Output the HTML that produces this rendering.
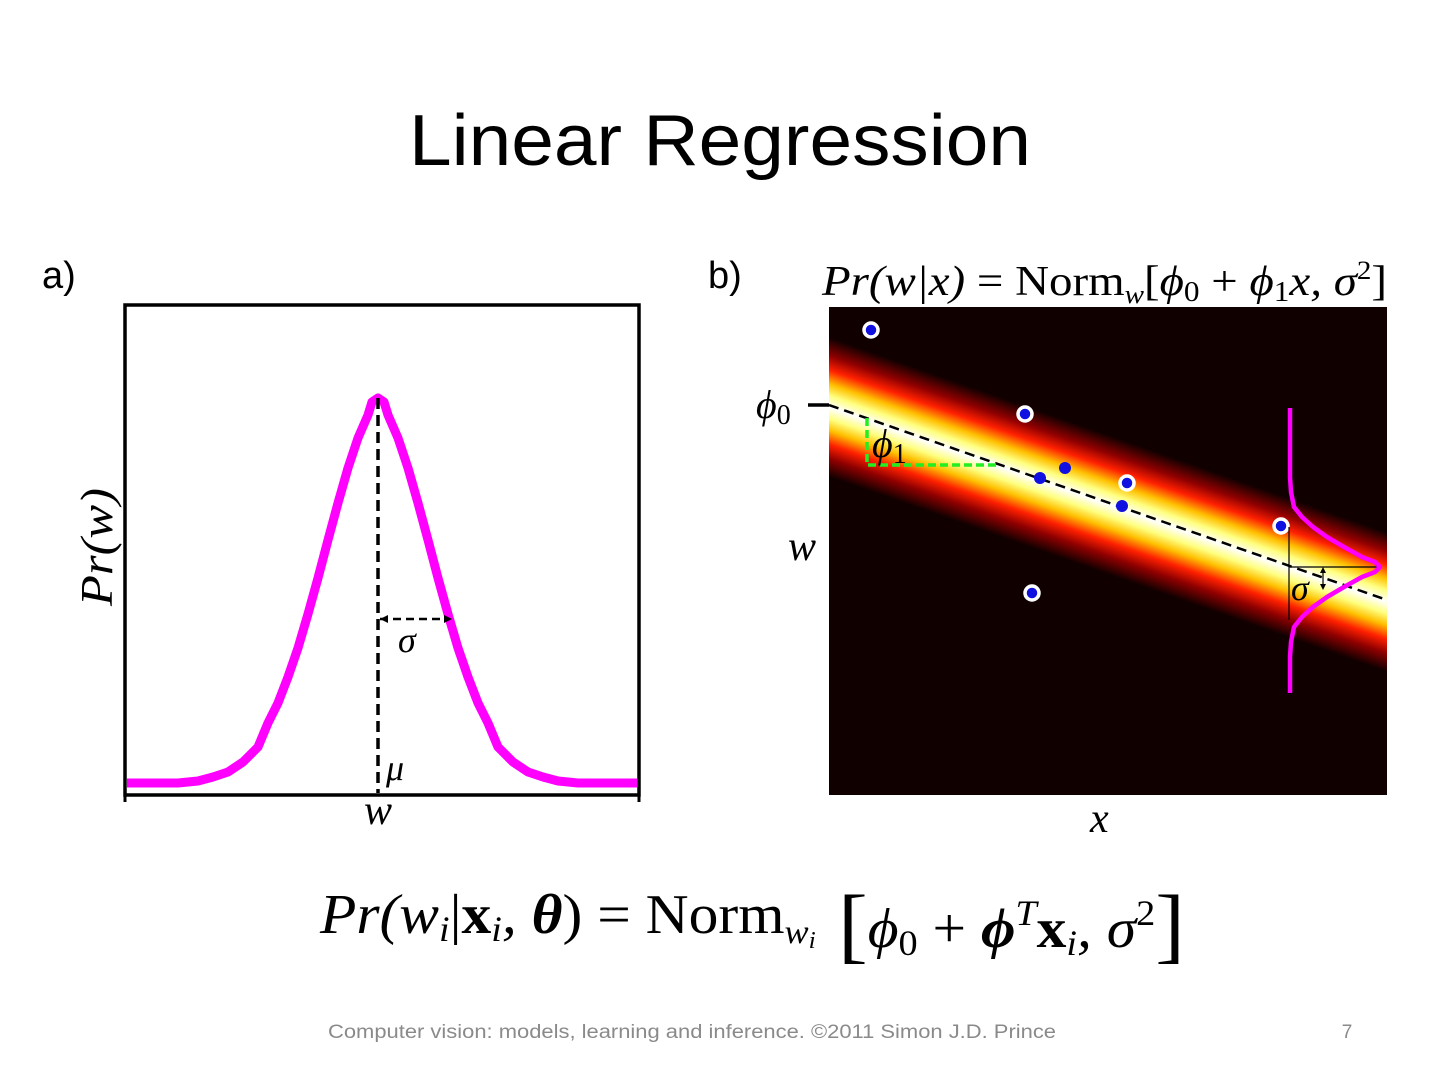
<!DOCTYPE html>
<html><head><meta charset="utf-8"><style>
html,body{margin:0;padding:0;background:#fff;width:1440px;height:1080px;overflow:hidden}
svg{display:block}
.m{font-family:"Liberation Serif",serif;font-style:italic}
.r{font-family:"Liberation Serif",serif}
</style></head><body>
<svg width="1440" height="1080" viewBox="0 0 1440 1080" xmlns="http://www.w3.org/2000/svg">
<defs>
<linearGradient id="band" x1="0" y1="0" x2="0" y2="1">
<stop offset="0" stop-color="#100000"/>
<stop offset="0.2" stop-color="#100000"/>
<stop offset="0.28" stop-color="#900000"/>
<stop offset="0.34" stop-color="#ff2000"/>
<stop offset="0.4" stop-color="#ffc000"/>
<stop offset="0.45" stop-color="#ffff80"/>
<stop offset="0.5" stop-color="#ffffff"/>
<stop offset="0.55" stop-color="#ffff80"/>
<stop offset="0.6" stop-color="#ffc000"/>
<stop offset="0.66" stop-color="#ff2000"/>
<stop offset="0.72" stop-color="#900000"/>
<stop offset="0.8" stop-color="#100000"/>
<stop offset="1" stop-color="#100000"/>
</linearGradient>
<clipPath id="cb"><rect x="829" y="307" width="558" height="488"/></clipPath>
</defs>
<text x="720" y="165" text-anchor="middle" font-family="Liberation Sans, sans-serif" font-size="72" textLength="622" lengthAdjust="spacingAndGlyphs" fill="#000">Linear Regression</text>

<!-- panel a -->
<text x="42" y="288" font-family="Liberation Sans, sans-serif" font-size="38">a)</text>
<rect x="125" y="305" width="514" height="490" fill="none" stroke="#000" stroke-width="3.5"/>
<line x1="125" y1="795" x2="125" y2="802" stroke="#000" stroke-width="3"/>
<line x1="639" y1="795" x2="639" y2="802" stroke="#000" stroke-width="3"/>
<polyline fill="none" stroke="#ff00ff" stroke-width="9" stroke-linejoin="round" points="127,783 178,783 198,781 213,777 228,772 243,762 258,747 268,723 278,703 288,677 298,648 308,614 318,578 328,540 338,503 348,468 358,438 368,415 372,402 378,398 384,402 388,415 398,438 408,468 418,503 428,540 438,578 448,614 458,648 468,677 478,703 488,723 498,747 513,762 528,772 543,777 558,781 578,783 637,783"/>
<line x1="378" y1="398" x2="378" y2="793" stroke="#000" stroke-width="3.5" stroke-dasharray="11,6"/>
<line x1="380" y1="619" x2="445" y2="619" stroke="#000" stroke-width="2.5" stroke-dasharray="8,5"/>
<path d="M380 619 l8 -4 v8z M452 619 l-8 -4 v8z" fill="#000"/>
<text x="398" y="652" class="m" font-size="36">σ</text>
<text x="386" y="780" class="m" font-size="36">μ</text>
<text x="364" y="824" class="m" font-size="42">w</text>
<text transform="translate(112,547) rotate(-90)" text-anchor="middle" class="m" font-size="46" textLength="118" lengthAdjust="spacingAndGlyphs">Pr(w)</text>

<!-- panel b -->
<text x="708" y="288" font-family="Liberation Sans, sans-serif" font-size="38">b)</text>
<text x="822" y="295" class="m" font-size="42" textLength="565" lengthAdjust="spacingAndGlyphs">Pr(w|x) <tspan class="r" style="font-style:normal">= Norm</tspan><tspan font-size="26" dy="8">w</tspan><tspan class="r" style="font-style:normal" dy="-8">[</tspan>ϕ<tspan class="r" style="font-style:normal" font-size="28" dy="6">0</tspan><tspan class="r" style="font-style:normal" dy="-6"> + </tspan>ϕ<tspan class="r" style="font-style:normal" font-size="28" dy="6">1</tspan><tspan dy="-6">x, σ</tspan><tspan class="r" style="font-style:normal" font-size="26" dy="-16">2</tspan><tspan class="r" style="font-style:normal" dy="16">]</tspan></text>
<rect x="829" y="307" width="558" height="488" fill="#100000"/>
<g clip-path="url(#cb)">
<g transform="translate(829,407) rotate(19.27)">
<rect x="-100" y="-110" width="800" height="220" fill="url(#band)"/>
</g>
<line x1="829" y1="405" x2="1387" y2="600" stroke="#000" stroke-width="2.5" stroke-dasharray="10,6"/>
</g>
<line x1="808" y1="405" x2="829" y2="405" stroke="#000" stroke-width="3.5"/>
<text x="756" y="418" class="m" font-size="40">ϕ<tspan class="r" style="font-style:normal" font-size="28" dy="6">0</tspan></text>
<text x="788" y="560" class="m" font-size="42">w</text>
<text x="1090" y="832" class="m" font-size="42">x</text>
<polyline points="867,418 867,465 997,465" fill="none" stroke="#22ee22" stroke-width="3.5" stroke-dasharray="8,4"/>
<text x="872" y="457" class="m" font-size="40">ϕ<tspan class="r" style="font-style:normal" font-size="28" dy="6">1</tspan></text>
<g fill="#1010e0" stroke="#fff" stroke-width="3.5">
<circle cx="871" cy="330" r="7"/><circle cx="1025" cy="414" r="7"/><circle cx="1127" cy="483" r="7"/><circle cx="1281" cy="526" r="7"/><circle cx="1032" cy="593" r="7"/>
</g>
<g fill="#1010e0"><circle cx="1065" cy="468" r="6"/><circle cx="1040" cy="478" r="6"/><circle cx="1122" cy="506" r="6"/></g>
<line x1="1289" y1="527" x2="1289" y2="620" stroke="#000" stroke-width="1.2"/>
<line x1="1289" y1="567" x2="1380" y2="567" stroke="#000" stroke-width="1.2"/>
<line x1="1323" y1="569" x2="1323" y2="588" stroke="#000" stroke-width="1.2"/>
<path d="M1323 567 l-3 6 h6z M1323 590 l-3 -6 h6z" fill="#000"/>
<text x="1291" y="600" class="m" font-size="36">σ</text>
<polyline fill="none" stroke="#ff00ff" stroke-width="4.5" stroke-linejoin="round" points="1290,408 1290,477 1291,492 1294,507 1302,517 1313,527 1327,537 1344,547 1362,557 1375,562 1380,567 1375,572 1362,577 1344,587 1327,597 1313,607 1302,617 1294,627 1291,642 1290,657 1290,693"/>

<!-- bottom equation -->
<text x="320" y="933" class="m" font-size="56" textLength="865" lengthAdjust="spacingAndGlyphs">Pr(w<tspan font-size="36" dy="8">i</tspan><tspan class="r" style="font-style:normal" dy="-8">|</tspan><tspan class="r" style="font-style:normal;font-weight:bold">x</tspan><tspan font-size="36" dy="8">i</tspan><tspan dy="-8">, </tspan><tspan font-weight="bold">θ</tspan><tspan class="r" style="font-style:normal">) = Norm</tspan><tspan font-size="34" dy="10">w</tspan><tspan font-size="24" dy="5">i</tspan><tspan class="r" style="font-style:normal" font-size="84" dy="5"> [</tspan><tspan dy="-6">ϕ</tspan><tspan class="r" style="font-style:normal" font-size="36" dy="8">0</tspan><tspan class="r" style="font-style:normal" dy="-8"> + </tspan><tspan font-weight="bold">ϕ</tspan><tspan font-size="36" dy="-22">T</tspan><tspan class="r" style="font-style:normal;font-weight:bold" dy="22">x</tspan><tspan font-size="36" dy="8">i</tspan><tspan dy="-8">, σ</tspan><tspan class="r" style="font-style:normal" font-size="36" dy="-22">2</tspan><tspan class="r" style="font-style:normal" font-size="84" dy="28">]</tspan></text>

<text x="328" y="1038" font-family="Liberation Sans, sans-serif" font-size="19" fill="#8a8a8a" textLength="728" lengthAdjust="spacingAndGlyphs">Computer vision: models, learning and inference.  ©2011 Simon J.D. Prince</text>
<text x="1347" y="1038" text-anchor="middle" font-family="Liberation Sans, sans-serif" font-size="19" fill="#8a8a8a">7</text>
</svg>
</body></html>
